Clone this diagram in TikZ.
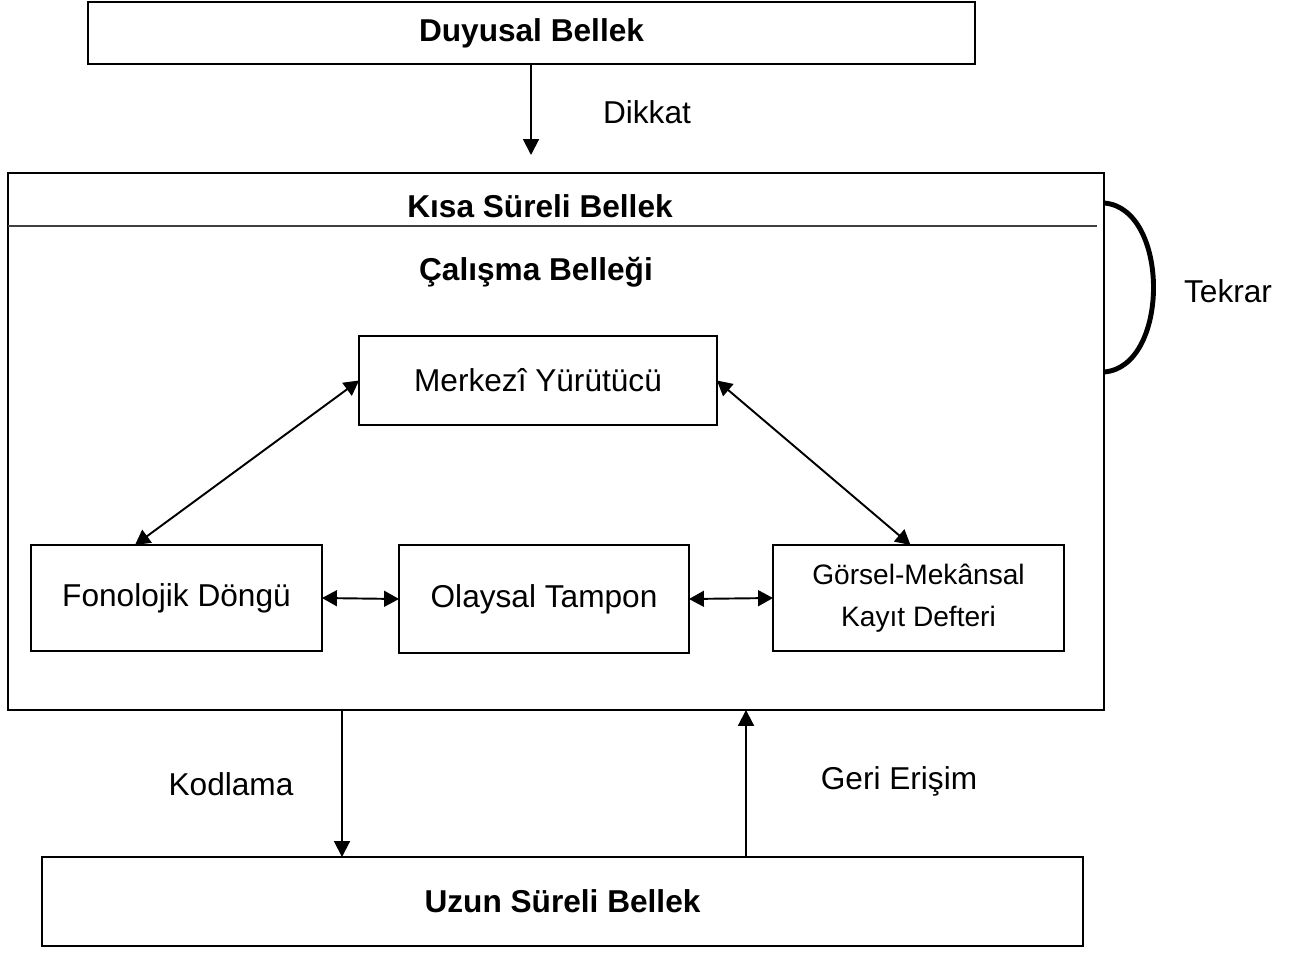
\documentclass[tikz,border=0pt]{standalone}
\usepackage{fontspec}
\setmainfont{Liberation Sans}
\usetikzlibrary{arrows.meta}
\tikzset{
  box/.style={draw,line width=1.1pt,inner sep=0pt,outer sep=0pt},
  title/.style={font=\fontsize{18}{21.6}\selectfont\bfseries},
  flow/.style={-{Triangle[length=9pt,width=9pt]},line width=1.1pt},
  both/.style={{Triangle[length=8.5pt,width=9pt]}-{Triangle[length=8.5pt,width=9pt]},line width=1.1pt}
}
\begin{document}
\begin{tikzpicture}[x=0.02cm,y=-0.02cm,font=\fontsize{18}{21.6}\selectfont]
        \useasboundingbox (0,0) rectangle (1307,953);
        % Draw outer boxes
        \node[box,minimum width=17.74cm,minimum height=1.24cm] (duy) at (531.5,33) {};
        \node[title] (duyt) at (duy.center) {Duyusal Bellek};
        \node[box,minimum width=21.92cm,minimum height=10.74cm] (ksb) at (556,441.5) {};
        \node[box,minimum width=20.82cm,minimum height=1.78cm] (uzn) at (562.5,901.5) {};
        \node[title] (uznt) at (uzn.center) {Uzun Süreli Bellek};
        % Header of short-term memory
        \node[title] (ksbt) at (540,206) {Kısa Süreli Bellek};
        \draw[line width=0.8pt,black!75] (ksb.west |- 0,226) -- (1097,226);
        \node[title] (cal) at (536,272) {Çalışma Belleği};
        % Draw working memory parts
        \node[box,minimum width=7.16cm,minimum height=1.78cm] (mer) at (538,380.5) {Merkezî Yürütücü};
        \node[box,minimum width=5.82cm,minimum height=2.12cm] (fon) at (176.5,598) {Fonolojik Döngü};
        \node[box,minimum width=5.8cm,minimum height=2.16cm] (ola) at (544,599) {Olaysal Tampon};
        \node[box,minimum width=5.82cm,minimum height=2.12cm,align=center,
              font=\fontsize{16}{24}\selectfont] (gor) at (918.5,598) {Görsel-Mekânsal\\Kayıt Defteri};
        % Links inside working memory
        \draw[both] ([xshift=2.08cm]fon.north west) -- (mer.west);
        \draw[both] (mer.east) -- ([xshift=-0.16cm]gor.north);
        \draw[both] (fon.east) -- (ola.west);
        \draw[both] (ola.east) -- (gor.west);
        % Flow between memories
        \coordinate (dik) at (531,155);
        \draw[flow] (duy.south -| dik) -- (dik);
        \node (dikt) at (647,112) {Dikkat};
        \draw[flow] (ksb.south -| 342,0) -- (uzn.north -| 342,0);
        \node (kod) at (231,784) {Kodlama};
        \draw[flow] (uzn.north -| 746,0) -- (ksb.south -| 746,0);
        \node (ger) at (899,781) {Geri Erişim};
        % Rehearsal loop
        \draw[line width=2.8pt] (1104,203) .. controls (1170,208) and (1170,367) .. (1104,372);
        \node (tek) at (1228,291) {Tekrar};
    \end{tikzpicture}
\end{document}
